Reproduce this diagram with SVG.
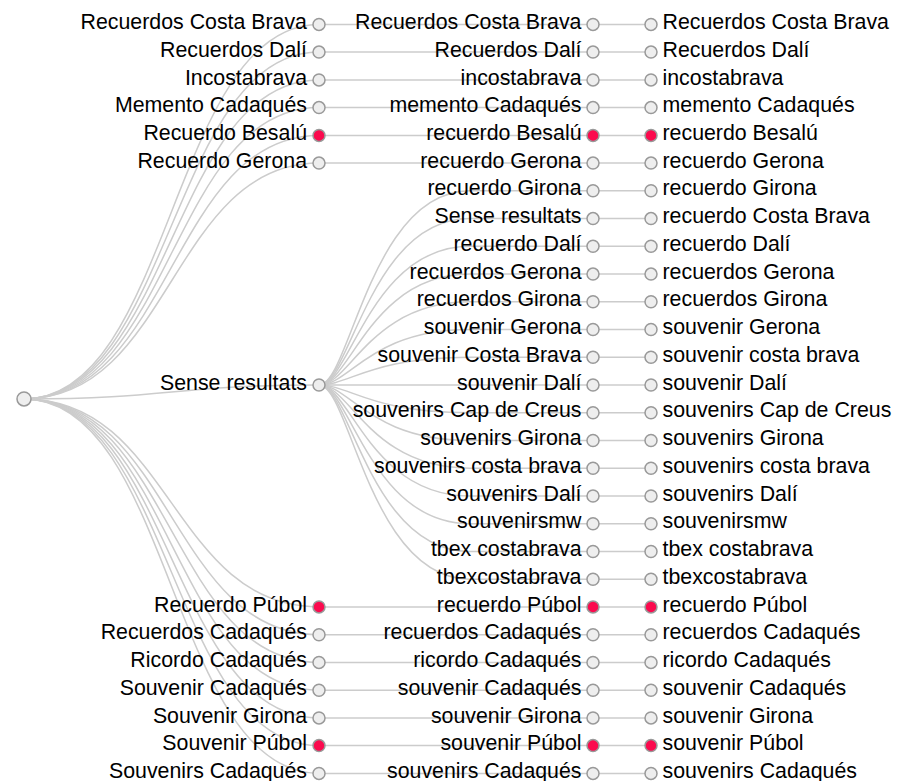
<svg xmlns="http://www.w3.org/2000/svg" width="897" height="781" viewBox="0 0 897 781">
  <style>
    .link { fill: none; stroke: #cccccc; stroke-width: 1.5; }
    .node circle { fill: #eeeeee; stroke: #999999; stroke-width: 1.5; }
    .node.hit circle { fill: #fb0a4e; }
    .node text { font-family: "Liberation Sans", Arial, Helvetica, sans-serif; font-size: 21.33px; fill: #000000; }
    .node text.end { text-anchor: end; }
    .node text.start { text-anchor: start; }
  </style>

  <!-- connectors -->
  <g id="links">
    <!-- root to first level -->
    <path class="link" d="M24,398.9 C171.5,398.9 171.5,24.4 319,24.4"/>
    <path class="link" d="M24,398.9 C171.5,398.9 171.5,52.1 319,52.1"/>
    <path class="link" d="M24,398.9 C171.5,398.9 171.5,79.9 319,79.9"/>
    <path class="link" d="M24,398.9 C171.5,398.9 171.5,107.6 319,107.6"/>
    <path class="link" d="M24,398.9 C171.5,398.9 171.5,135.4 319,135.4"/>
    <path class="link" d="M24,398.9 C171.5,398.9 171.5,163.1 319,163.1"/>
    <path class="link" d="M24,398.9 C171.5,398.9 171.5,385 319,385"/>
    <path class="link" d="M24,398.9 C171.5,398.9 171.5,606.9 319,606.9"/>
    <path class="link" d="M24,398.9 C171.5,398.9 171.5,634.7 319,634.7"/>
    <path class="link" d="M24,398.9 C171.5,398.9 171.5,662.4 319,662.4"/>
    <path class="link" d="M24,398.9 C171.5,398.9 171.5,690.2 319,690.2"/>
    <path class="link" d="M24,398.9 C171.5,398.9 171.5,717.9 319,717.9"/>
    <path class="link" d="M24,398.9 C171.5,398.9 171.5,745.6 319,745.6"/>
    <path class="link" d="M24,398.9 C171.5,398.9 171.5,773.4 319,773.4"/>

    <!-- first level to second level, straight rows -->
    <path class="link" d="M319,24.4 H593"/>
    <path class="link" d="M319,52.1 H593"/>
    <path class="link" d="M319,79.9 H593"/>
    <path class="link" d="M319,107.6 H593"/>
    <path class="link" d="M319,135.4 H593"/>
    <path class="link" d="M319,163.1 H593"/>
    <path class="link" d="M319,606.9 H593"/>
    <path class="link" d="M319,634.7 H593"/>
    <path class="link" d="M319,662.4 H593"/>
    <path class="link" d="M319,690.2 H593"/>
    <path class="link" d="M319,717.9 H593"/>
    <path class="link" d="M319,745.6 H593"/>
    <path class="link" d="M319,773.4 H593"/>

    <!-- "Sense resultats" fan -->
    <path class="link" d="M319,385 C350,385 370,190.8 470,190.8 H593"/>
    <path class="link" d="M319,385 C350,385 370,218.6 470,218.6 H593"/>
    <path class="link" d="M319,385 C350,385 370,246.3 470,246.3 H593"/>
    <path class="link" d="M319,385 C350,385 370,274.1 470,274.1 H593"/>
    <path class="link" d="M319,385 C350,385 370,301.8 470,301.8 H593"/>
    <path class="link" d="M319,385 C350,385 370,329.5 470,329.5 H593"/>
    <path class="link" d="M319,385 C350,385 370,357.3 470,357.3 H593"/>
    <path class="link" d="M319,385 H593"/>
    <path class="link" d="M319,385 C350,385 370,412.8 470,412.8 H593"/>
    <path class="link" d="M319,385 C350,385 370,440.5 470,440.5 H593"/>
    <path class="link" d="M319,385 C350,385 370,468.2 470,468.2 H593"/>
    <path class="link" d="M319,385 C350,385 370,496 470,496 H593"/>
    <path class="link" d="M319,385 C350,385 370,523.7 470,523.7 H593"/>
    <path class="link" d="M319,385 C350,385 370,551.5 470,551.5 H593"/>
    <path class="link" d="M319,385 C350,385 370,579.2 470,579.2 H593"/>

    <!-- second level to third level -->
    <path class="link" d="M593,24.4 H651"/>
    <path class="link" d="M593,52.1 H651"/>
    <path class="link" d="M593,79.9 H651"/>
    <path class="link" d="M593,107.6 H651"/>
    <path class="link" d="M593,135.4 H651"/>
    <path class="link" d="M593,163.1 H651"/>
    <path class="link" d="M593,190.8 H651"/>
    <path class="link" d="M593,218.6 H651"/>
    <path class="link" d="M593,246.3 H651"/>
    <path class="link" d="M593,274.1 H651"/>
    <path class="link" d="M593,301.8 H651"/>
    <path class="link" d="M593,329.5 H651"/>
    <path class="link" d="M593,357.3 H651"/>
    <path class="link" d="M593,385 H651"/>
    <path class="link" d="M593,412.8 H651"/>
    <path class="link" d="M593,440.5 H651"/>
    <path class="link" d="M593,468.2 H651"/>
    <path class="link" d="M593,496 H651"/>
    <path class="link" d="M593,523.7 H651"/>
    <path class="link" d="M593,551.5 H651"/>
    <path class="link" d="M593,579.2 H651"/>
    <path class="link" d="M593,606.9 H651"/>
    <path class="link" d="M593,634.7 H651"/>
    <path class="link" d="M593,662.4 H651"/>
    <path class="link" d="M593,690.2 H651"/>
    <path class="link" d="M593,717.9 H651"/>
    <path class="link" d="M593,745.6 H651"/>
    <path class="link" d="M593,773.4 H651"/>
  </g>

  <!-- root -->
  <g id="root" class="node"><circle cx="24" cy="398.9" r="7"/></g>

  <!-- first level -->
  <g id="a1" class="node"><circle cx="319" cy="24.4" r="6"/><text class="end" x="307" y="29">Recuerdos Costa Brava</text></g>
  <g id="a2" class="node"><circle cx="319" cy="52.1" r="6"/><text class="end" x="307" y="56.7">Recuerdos Dalí</text></g>
  <g id="a3" class="node"><circle cx="319" cy="79.9" r="6"/><text class="end" x="307" y="84.5">Incostabrava</text></g>
  <g id="a4" class="node"><circle cx="319" cy="107.6" r="6"/><text class="end" x="307" y="112.2">Memento Cadaqués</text></g>
  <g id="a5" class="node hit"><circle cx="319" cy="135.4" r="6"/><text class="end" x="307" y="140">Recuerdo Besalú</text></g>
  <g id="a6" class="node"><circle cx="319" cy="163.1" r="6"/><text class="end" x="307" y="167.7">Recuerdo Gerona</text></g>
  <g id="a7" class="node"><circle cx="319" cy="385" r="6"/><text class="end" x="307" y="389.6">Sense resultats</text></g>
  <g id="a8" class="node hit"><circle cx="319" cy="606.9" r="6"/><text class="end" x="307" y="611.5">Recuerdo Púbol</text></g>
  <g id="a9" class="node"><circle cx="319" cy="634.7" r="6"/><text class="end" x="307" y="639.3">Recuerdos Cadaqués</text></g>
  <g id="a10" class="node"><circle cx="319" cy="662.4" r="6"/><text class="end" x="307" y="667">Ricordo Cadaqués</text></g>
  <g id="a11" class="node"><circle cx="319" cy="690.2" r="6"/><text class="end" x="307" y="694.8">Souvenir Cadaqués</text></g>
  <g id="a12" class="node"><circle cx="319" cy="717.9" r="6"/><text class="end" x="307" y="722.5">Souvenir Girona</text></g>
  <g id="a13" class="node hit"><circle cx="319" cy="745.6" r="6"/><text class="end" x="307" y="750.2">Souvenir Púbol</text></g>
  <g id="a14" class="node"><circle cx="319" cy="773.4" r="6"/><text class="end" x="307" y="777.6">Souvenirs Cadaqués</text></g>

  <!-- second level -->
  <g id="b1" class="node"><circle cx="593" cy="24.4" r="6"/><text class="end" x="581.5" y="29">Recuerdos Costa Brava</text></g>
  <g id="b2" class="node"><circle cx="593" cy="52.1" r="6"/><text class="end" x="581.5" y="56.7">Recuerdos Dalí</text></g>
  <g id="b3" class="node"><circle cx="593" cy="79.9" r="6"/><text class="end" x="581.5" y="84.5">incostabrava</text></g>
  <g id="b4" class="node"><circle cx="593" cy="107.6" r="6"/><text class="end" x="581.5" y="112.2">memento Cadaqués</text></g>
  <g id="b5" class="node hit"><circle cx="593" cy="135.4" r="6"/><text class="end" x="581.5" y="140">recuerdo Besalú</text></g>
  <g id="b6" class="node"><circle cx="593" cy="163.1" r="6"/><text class="end" x="581.5" y="167.7">recuerdo Gerona</text></g>
  <g id="b7" class="node"><circle cx="593" cy="190.8" r="6"/><text class="end" x="581.5" y="195.4">recuerdo Girona</text></g>
  <g id="b8" class="node"><circle cx="593" cy="218.6" r="6"/><text class="end" x="581.5" y="223.2">Sense resultats</text></g>
  <g id="b9" class="node"><circle cx="593" cy="246.3" r="6"/><text class="end" x="581.5" y="250.9">recuerdo Dalí</text></g>
  <g id="b10" class="node"><circle cx="593" cy="274.1" r="6"/><text class="end" x="581.5" y="278.7">recuerdos Gerona</text></g>
  <g id="b11" class="node"><circle cx="593" cy="301.8" r="6"/><text class="end" x="581.5" y="306.4">recuerdos Girona</text></g>
  <g id="b12" class="node"><circle cx="593" cy="329.5" r="6"/><text class="end" x="581.5" y="334.1">souvenir Gerona</text></g>
  <g id="b13" class="node"><circle cx="593" cy="357.3" r="6"/><text class="end" x="581.5" y="361.9">souvenir Costa Brava</text></g>
  <g id="b14" class="node"><circle cx="593" cy="385" r="6"/><text class="end" x="581.5" y="389.6">souvenir Dalí</text></g>
  <g id="b15" class="node"><circle cx="593" cy="412.8" r="6"/><text class="end" x="581.5" y="417.4">souvenirs Cap de Creus</text></g>
  <g id="b16" class="node"><circle cx="593" cy="440.5" r="6"/><text class="end" x="581.5" y="445.1">souvenirs Girona</text></g>
  <g id="b17" class="node"><circle cx="593" cy="468.2" r="6"/><text class="end" x="581.5" y="472.8">souvenirs costa brava</text></g>
  <g id="b18" class="node"><circle cx="593" cy="496" r="6"/><text class="end" x="581.5" y="500.6">souvenirs Dalí</text></g>
  <g id="b19" class="node"><circle cx="593" cy="523.7" r="6"/><text class="end" x="581.5" y="528.3">souvenirsmw</text></g>
  <g id="b20" class="node"><circle cx="593" cy="551.5" r="6"/><text class="end" x="581.5" y="556.1">tbex costabrava</text></g>
  <g id="b21" class="node"><circle cx="593" cy="579.2" r="6"/><text class="end" x="581.5" y="583.8">tbexcostabrava</text></g>
  <g id="b22" class="node hit"><circle cx="593" cy="606.9" r="6"/><text class="end" x="581.5" y="611.5">recuerdo Púbol</text></g>
  <g id="b23" class="node"><circle cx="593" cy="634.7" r="6"/><text class="end" x="581.5" y="639.3">recuerdos Cadaqués</text></g>
  <g id="b24" class="node"><circle cx="593" cy="662.4" r="6"/><text class="end" x="581.5" y="667">ricordo Cadaqués</text></g>
  <g id="b25" class="node"><circle cx="593" cy="690.2" r="6"/><text class="end" x="581.5" y="694.8">souvenir Cadaqués</text></g>
  <g id="b26" class="node"><circle cx="593" cy="717.9" r="6"/><text class="end" x="581.5" y="722.5">souvenir Girona</text></g>
  <g id="b27" class="node hit"><circle cx="593" cy="745.6" r="6"/><text class="end" x="581.5" y="750.2">souvenir Púbol</text></g>
  <g id="b28" class="node"><circle cx="593" cy="773.4" r="6"/><text class="end" x="581.5" y="777.6">souvenirs Cadaqués</text></g>

  <!-- third level -->
  <g id="c1" class="node"><circle cx="651" cy="24.4" r="6"/><text class="start" x="662.5" y="29">Recuerdos Costa Brava</text></g>
  <g id="c2" class="node"><circle cx="651" cy="52.1" r="6"/><text class="start" x="662.5" y="56.7">Recuerdos Dalí</text></g>
  <g id="c3" class="node"><circle cx="651" cy="79.9" r="6"/><text class="start" x="662.5" y="84.5">incostabrava</text></g>
  <g id="c4" class="node"><circle cx="651" cy="107.6" r="6"/><text class="start" x="662.5" y="112.2">memento Cadaqués</text></g>
  <g id="c5" class="node hit"><circle cx="651" cy="135.4" r="6"/><text class="start" x="662.5" y="140">recuerdo Besalú</text></g>
  <g id="c6" class="node"><circle cx="651" cy="163.1" r="6"/><text class="start" x="662.5" y="167.7">recuerdo Gerona</text></g>
  <g id="c7" class="node"><circle cx="651" cy="190.8" r="6"/><text class="start" x="662.5" y="195.4">recuerdo Girona</text></g>
  <g id="c8" class="node"><circle cx="651" cy="218.6" r="6"/><text class="start" x="662.5" y="223.2">recuerdo Costa Brava</text></g>
  <g id="c9" class="node"><circle cx="651" cy="246.3" r="6"/><text class="start" x="662.5" y="250.9">recuerdo Dalí</text></g>
  <g id="c10" class="node"><circle cx="651" cy="274.1" r="6"/><text class="start" x="662.5" y="278.7">recuerdos Gerona</text></g>
  <g id="c11" class="node"><circle cx="651" cy="301.8" r="6"/><text class="start" x="662.5" y="306.4">recuerdos Girona</text></g>
  <g id="c12" class="node"><circle cx="651" cy="329.5" r="6"/><text class="start" x="662.5" y="334.1">souvenir Gerona</text></g>
  <g id="c13" class="node"><circle cx="651" cy="357.3" r="6"/><text class="start" x="662.5" y="361.9">souvenir costa brava</text></g>
  <g id="c14" class="node"><circle cx="651" cy="385" r="6"/><text class="start" x="662.5" y="389.6">souvenir Dalí</text></g>
  <g id="c15" class="node"><circle cx="651" cy="412.8" r="6"/><text class="start" x="662.5" y="417.4">souvenirs Cap de Creus</text></g>
  <g id="c16" class="node"><circle cx="651" cy="440.5" r="6"/><text class="start" x="662.5" y="445.1">souvenirs Girona</text></g>
  <g id="c17" class="node"><circle cx="651" cy="468.2" r="6"/><text class="start" x="662.5" y="472.8">souvenirs costa brava</text></g>
  <g id="c18" class="node"><circle cx="651" cy="496" r="6"/><text class="start" x="662.5" y="500.6">souvenirs Dalí</text></g>
  <g id="c19" class="node"><circle cx="651" cy="523.7" r="6"/><text class="start" x="662.5" y="528.3">souvenirsmw</text></g>
  <g id="c20" class="node"><circle cx="651" cy="551.5" r="6"/><text class="start" x="662.5" y="556.1">tbex costabrava</text></g>
  <g id="c21" class="node"><circle cx="651" cy="579.2" r="6"/><text class="start" x="662.5" y="583.8">tbexcostabrava</text></g>
  <g id="c22" class="node hit"><circle cx="651" cy="606.9" r="6"/><text class="start" x="662.5" y="611.5">recuerdo Púbol</text></g>
  <g id="c23" class="node"><circle cx="651" cy="634.7" r="6"/><text class="start" x="662.5" y="639.3">recuerdos Cadaqués</text></g>
  <g id="c24" class="node"><circle cx="651" cy="662.4" r="6"/><text class="start" x="662.5" y="667">ricordo Cadaqués</text></g>
  <g id="c25" class="node"><circle cx="651" cy="690.2" r="6"/><text class="start" x="662.5" y="694.8">souvenir Cadaqués</text></g>
  <g id="c26" class="node"><circle cx="651" cy="717.9" r="6"/><text class="start" x="662.5" y="722.5">souvenir Girona</text></g>
  <g id="c27" class="node hit"><circle cx="651" cy="745.6" r="6"/><text class="start" x="662.5" y="750.2">souvenir Púbol</text></g>
  <g id="c28" class="node"><circle cx="651" cy="773.4" r="6"/><text class="start" x="662.5" y="777.6">souvenirs Cadaqués</text></g>
</svg>
